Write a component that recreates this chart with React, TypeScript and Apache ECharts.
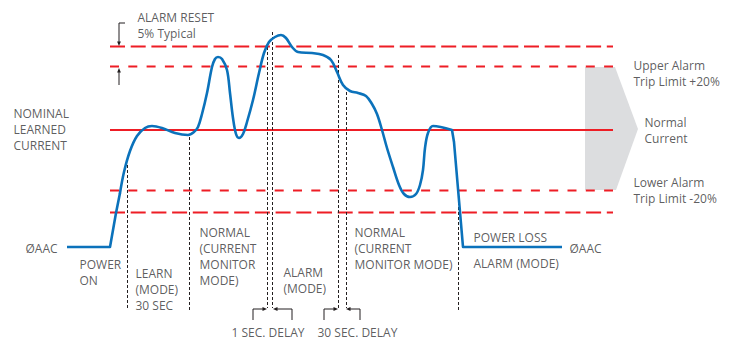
import React, { useEffect, useRef } from "react";
import * as echarts from "echarts";

// Diagram coordinate space: x = time position, y = signal level (screen units, inverted axis)
const X_MAX = 738;
const Y_MAX = 341;

// Horizontal reference levels
const limitStartX = 110;
const limitEndX = 613;
const alarmResetHigh = 46.5;
const upperTripLevel = 66.5;
const nominalLevel = 130;
const lowerTripLevel = 190.5;
const alarmResetLow = 212.5;

// Current waveform
const curveRise: number[][] = [[67, 247], [110, 247], [116, 213], [120, 193]];
const curveMain: number[][] = [
  [120, 193], [124, 172], [130, 151], [137, 136], [145, 128], [152, 126], [162, 128],
  [175, 133], [188, 135], [194, 132], [198, 127], [202, 114], [207, 93], [212, 67],
  [215, 59], [218, 57], [222, 59], [227, 70], [230, 93], [233, 118], [236, 134],
  [239, 138], [243, 134], [247, 122], [253, 100], [259, 73], [264, 53], [269, 42],
  [275, 37], [281, 35], [286, 38], [292, 47], [298, 52], [312, 53], [323, 55],
  [331, 60], [337, 72], [343, 85], [350, 91], [358, 93], [366, 96], [372, 104],
  [377, 114], [382, 130], [387, 148], [393, 167], [399, 185], [404, 194], [410, 197],
  [416, 194], [420, 185], [423, 170], [425, 148], [428, 133], [433, 126], [452, 130],
];
const curveDrop: number[][] = [[452, 130], [454, 142], [463, 247], [562, 247]];

// Mode boundaries (dotted verticals): [x, topY, bottomY]
const modeMarkers: number[][] = [
  [127, 165, 310], [189, 137, 310], [267, 47, 308], [272, 32, 308],
  [338, 55, 308], [346, 92, 308], [458, 202, 310],
];

// Bracket arrows (arrowhead at the last point)
const bracketArrows: number[][][] = [
  [[125, 23], [119, 23], [119, 46]],
  [[119, 85], [119, 68]],
  [[253, 320], [253, 309], [267, 309]],
  [[292, 320], [292, 309], [273, 309]],
  [[324, 320], [324, 309], [338, 309]],
  [[360, 320], [360, 309], [346, 309]],
];

// Normal-current band arrow
const bandArrow: number[][] = [[585, 67], [615, 67], [638, 129], [616, 190], [585, 190]];

// Annotation texts
const annotationX = [137, 137, 13, 633, 644, 633, 25, 569, 79, 135, 199, 283, 354, 473, 473, 231, 317];
const annotationY = [17, 33, 129, 73, 130, 190, 248, 248, 272.5, 289, 256, 280.5, 248, 237, 263, 332, 332];
const annotationText = [
  "ALARM RESET",
  "5% Typical",
  "NOMINAL\nLEARNED\nCURRENT",
  "Upper Alarm\nTrip Limit +20%",
  "Normal\nCurrent",
  "Lower Alarm\nTrip Limit -20%",
  "ØAAC",
  "ØAAC",
  "POWER\nON",
  "LEARN\n(MODE)\n30 SEC",
  "NORMAL\n(CURRENT\nMONITOR\nMODE)",
  "ALARM\n(MODE)",
  "NORMAL\n(CURRENT\nMONITOR MODE)",
  "POWER LOSS",
  "ALARM (MODE)",
  "1 SEC. DELAY",
  "30 SEC. DELAY",
];

const RED = "#ee1d25";
const BLUE = "#0b72bb";
const INK = "#231f20";
const TEXT = "#333335";
const FONT = "'Open Sans', 'Noto Sans', sans-serif";

function limitSeries(y: number, type: any) {
  return {
    type: "line",
    data: [[limitStartX, y], [limitEndX, y]],
    symbol: "none",
    silent: true,
    z: 2,
    lineStyle: { color: RED, width: 2.2, type },
  };
}

export default function App() {
  const ref = useRef<HTMLDivElement>(null);

  useEffect(() => {
    if (!ref.current) return;
    const chart = echarts.init(ref.current, null, { renderer: "svg" });
    const longDash = [15, 5.7];
    const shortDash = [9, 9.3];
    chart.setOption({
      animation: false,
      grid: { left: 0, right: 0, top: 0, bottom: 0 },
      xAxis: { type: "value", min: 0, max: X_MAX, show: false },
      yAxis: { type: "value", min: 0, max: Y_MAX, inverse: true, show: false },
      series: [
        {
          type: "custom",
          silent: true,
          z: 1,
          data: [0],
          renderItem: (_p: any, api: any) => ({
            type: "polygon",
            shape: { points: bandArrow.map((p) => api.coord(p)) },
            style: { fill: "#dcdddf" },
          }),
        },
        limitSeries(alarmResetHigh, longDash),
        limitSeries(upperTripLevel, shortDash),
        limitSeries(nominalLevel, "solid"),
        limitSeries(lowerTripLevel, shortDash),
        limitSeries(alarmResetLow, longDash),
        {
          type: "lines",
          coordinateSystem: "cartesian2d",
          silent: true,
          z: 3,
          lineStyle: { color: INK, width: 1, type: [3, 2], opacity: 1 },
          data: modeMarkers.map((m) => ({ coords: [[m[0], m[1]], [m[0], m[2]]] })),
        },
        {
          type: "custom",
          silent: true,
          z: 3,
          data: bracketArrows.map((_, i) => i),
          renderItem: (p: any, api: any) => {
            const pts = bracketArrows[p.dataIndex].map((c) => api.coord(c));
            const end = pts[pts.length - 1];
            const prev = pts[pts.length - 2];
            const dx = end[0] - prev[0];
            const dy = end[1] - prev[1];
            const len = Math.hypot(dx, dy) || 1;
            const ux = dx / len;
            const uy = dy / len;
            const L = 4.5;
            const W = 1.9;
            const base = [end[0] - ux * L, end[1] - uy * L];
            const lineEnd = [end[0] - ux * (L - 1), end[1] - uy * (L - 1)];
            const linePts = pts.slice(0, -1).concat([lineEnd]);
            return {
              type: "group",
              children: [
                {
                  type: "polyline",
                  shape: { points: linePts },
                  style: { stroke: INK, lineWidth: 1, fill: "none" },
                },
                {
                  type: "polygon",
                  shape: {
                    points: [
                      end,
                      [base[0] - uy * W, base[1] + ux * W],
                      [base[0] + uy * W, base[1] - ux * W],
                    ],
                  },
                  style: { fill: INK },
                },
              ],
            };
          },
        },
        {
          type: "line",
          data: curveRise,
          symbol: "none",
          silent: true,
          z: 4,
          lineStyle: { color: BLUE, width: 2.6, join: "round" },
        },
        {
          type: "line",
          data: curveMain,
          smooth: 0.35,
          symbol: "none",
          silent: true,
          z: 4,
          lineStyle: { color: BLUE, width: 2.6, join: "round", cap: "round" },
        },
        {
          type: "line",
          data: curveDrop,
          symbol: "none",
          silent: true,
          z: 4,
          lineStyle: { color: BLUE, width: 2.6, join: "round" },
        },
        {
          type: "scatter",
          silent: true,
          z: 5,
          symbolSize: 1,
          itemStyle: { color: "transparent" },
          data: annotationText.map((t, i) => ({ value: [annotationX[i], annotationY[i]], name: t })),
          label: {
            show: true,
            position: "right",
            distance: 0,
            formatter: (p: any) => p.name,
            color: TEXT,
            fontSize: 12,
            fontFamily: FONT,
            lineHeight: 16,
          },
        },
      ],
    });
    return () => chart.dispose();
  }, []);

  return (
    <div
      ref={ref}
      style={{ position: "absolute", left: 0, top: 0, width: X_MAX, height: Y_MAX, background: "#fff" }}
    />
  );
}
